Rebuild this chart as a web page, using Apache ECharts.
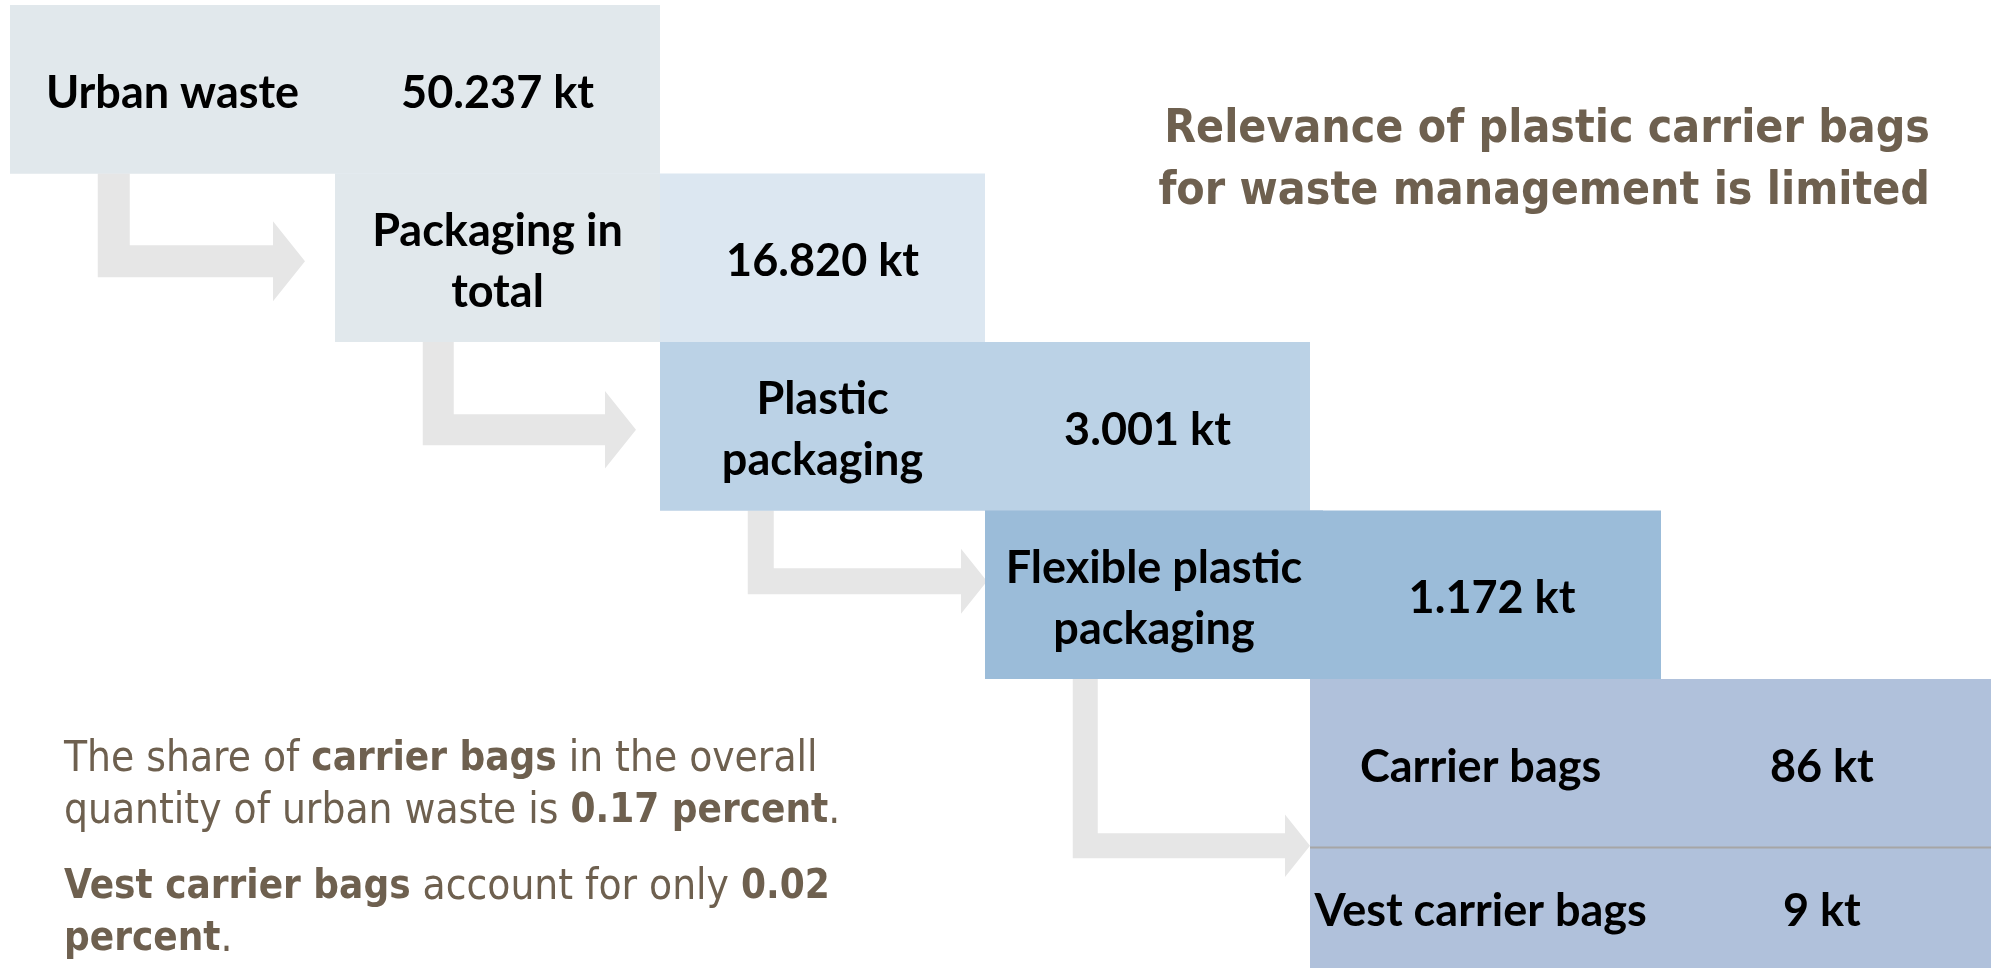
<!DOCTYPE html>
<html>
<head>
<meta charset="utf-8">
<title>Plastic carrier bags in urban waste</title>
<script src="https://cdn.jsdelivr.net/npm/echarts@6/dist/echarts.min.js"></script>
<style>
  html, body { margin: 0; padding: 0; background: #fff; }
  #chart { width: 1991px; height: 968px; }
</style>
</head>
<body>
<div id="chart"></div>
<script>
// waste streams, from the whole down to the bags (kt)
var stages = ['Urban waste', 'Packaging in\ntotal', 'Plastic\npackaging', 'Flexible plastic\npackaging', 'Carrier bags', 'Vest carrier bags'];
var amountsKt = [50237, 16820, 3001, 1172, 86, 9];

var titleLines = ['Relevance of plastic carrier bags', 'for waste management is limited'];
var carrierShare = '0.17 percent';
var vestShare = '0.02';

// look of the boxes / arrows
var boxColors = ['#E1E8EC', '#DCE7F1', '#BBD2E6', '#9BBCD9', '#B0C1DB', '#B0C1DB'];
var labelColors = ['#E1E8EC', '#E1E8EC', '#BBD2E6', '#9BBCD9', '#B0C1DB', '#B0C1DB'];
var boxWidths = [2, 2, 2, 2.08, 2.1, 2.1];
var arrowSize = [32, 31, 26, 25];
var arrowDrop = [0.52, 0.52, 0.42, 0.99];
var arrowGap = [30, 24, -2, 0];
var brown = '#6E604F';
var Y_MAX = 5.715;
var boxFont = 'Lato';
var textFont = '"DejaVu Sans Condensed", "DejaVu Sans"';

function fmtKt(v) {
    if (v < 1000) return v + ' kt';
    var r = String(v % 1000);
    while (r.length < 3) r = '0' + r;
    return Math.floor(v / 1000) + '.' + r + ' kt';
}

// a box sits one step right and one step down from the one before,
// the two bag rows share the last column
var boxData = amountsKt.map(function (v, i) {
    return [Math.min(i, 4), i, v];
});
var arrowData = [0, 1, 2, 3].map(function (i) { return [i, i]; });

function renderBox(params, api) {
    var i = params.dataIndex;
    var col = api.value(0), row = api.value(1);
    var w = boxWidths[i];
    var bottom = i === stages.length - 1 ? Y_MAX : row + 1;
    var p0 = api.coord([col, row]);
    var p1 = api.coord([col + w, bottom]);
    var pm = api.coord([col + w / 2, bottom]);
    var cy = (p0[1] + p1[1]) / 2 + 4;
    var txt = {
        fontFamily: boxFont, fontWeight: 'bold', fontSize: 45,
        fill: '#000', align: 'center', verticalAlign: 'middle', lineHeight: 61
    };
    var children = [
        { type: 'rect', shape: { x: p0[0], y: p0[1], width: p1[0] - p0[0], height: p1[1] - p0[1] }, style: { fill: boxColors[i] } },
        { type: 'rect', shape: { x: p0[0], y: p0[1], width: pm[0] - p0[0], height: p1[1] - p0[1] }, style: { fill: labelColors[i] } },
        { type: 'text', x: p0[0] + (p1[0] - p0[0]) * 0.25, y: cy, style: Object.assign({ text: stages[i] }, txt) },
        { type: 'text', x: p0[0] + (p1[0] - p0[0]) * 0.75, y: cy, style: Object.assign({ text: fmtKt(api.value(2)) }, txt) }
    ];
    if (i === stages.length - 1) {
        children.push({
            type: 'line',
            shape: { x1: p0[0], y1: p0[1], x2: p1[0], y2: p0[1] },
            style: { stroke: '#A6A6A6', lineWidth: 2 }
        });
    }
    return { type: 'group', children: children };
}

function renderArrow(params, api) {
    var i = params.dataIndex;
    var col = api.value(0), row = api.value(1);
    var t = arrowSize[i];
    var top = api.coord([col + 0.27, row + 1]);
    var next = api.coord([col + 1, row + 1 + arrowDrop[i]]);
    var sL = top[0], sT = top[1];
    var tipX = next[0] - arrowGap[i], tipY = next[1];
    var base = tipX - t, hh = t * 1.25;
    var pts = [
        [sL, sT], [sL + t, sT], [sL + t, tipY - t / 2], [base, tipY - t / 2],
        [base, tipY - hh], [tipX, tipY], [base, tipY + hh], [base, tipY + t / 2], [sL, tipY + t / 2]
    ];
    return { type: 'polygon', shape: { points: pts }, style: { fill: '#E6E6E6' } };
}

var rich = {
    n: { fontFamily: textFont, fontSize: 42, fill: brown, color: brown, lineHeight: 52 },
    b: { fontFamily: textFont, fontSize: 40, fontWeight: 'bold', fill: brown, color: brown, lineHeight: 52 }
};

var chart = echarts.init(document.getElementById('chart'));
chart.setOption({
    animation: false,
    grid: { left: 10, top: 5, width: 1950, height: 963 },
    xAxis: { type: 'value', min: 0, max: 6, show: false },
    yAxis: { type: 'value', min: 0, max: Y_MAX, inverse: true, show: false },
    graphic: [
        {
            type: 'text', x: 1930, y: 99,
            style: {
                text: titleLines.join('\n'), fontFamily: textFont, fontWeight: 'bold', fontSize: 46,
                fill: brown, align: 'right', verticalAlign: 'top', lineHeight: 62
            }
        },
        {
            type: 'text', x: 64, y: 734,
            style: {
                text: '{n|The share of }{b|carrier bags}{n| in the overall}\n{n|quantity of urban waste is }{b|' + carrierShare + '}{n|.}',
                rich: rich, fill: brown, verticalAlign: 'top'
            }
        },
        {
            type: 'text', x: 64, y: 862,
            style: {
                text: '{b|Vest carrier bags}{n| account for only }{b|' + vestShare + '}\n{b|percent}{n|.}',
                rich: rich, fill: brown, verticalAlign: 'top'
            }
        }
    ],
    series: [
        { type: 'custom', clip: false, silent: true, z: 1, data: arrowData, renderItem: renderArrow },
        { type: 'custom', clip: false, silent: true, z: 2, data: boxData, renderItem: renderBox }
    ]
});
</script>
</body>
</html>
